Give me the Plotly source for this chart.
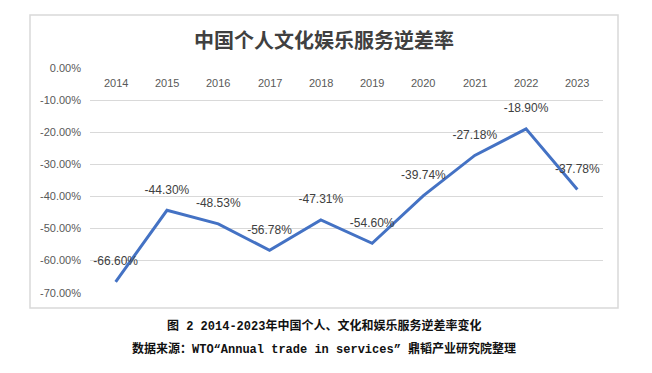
import plotly.graph_objects as go

years = ["2014", "2015", "2016", "2017", "2018", "2019", "2020", "2021", "2022", "2023"]
deficit_rate = [-66.60, -44.30, -48.53, -56.78, -47.31, -54.60, -39.74, -27.18, -18.90, -37.78]
y_ticks = [0, -10, -20, -30, -40, -50, -60, -70]

title_text = "中国个人文化娱乐服务逆差率"
caption1 = "图 2 2014-2023年中国个人、文化和娱乐服务逆差率变化"
caption2 = "数据来源：WTO“Annual trade in services” 鼎韬产业研究院整理"

labels = [f"{v:.2f}%" for v in deficit_rate]
tick_text = [f"{v:.2f}%" if v == 0 else f"-{abs(v):.2f}%" for v in y_ticks]

fig = go.Figure()
fig.add_trace(go.Scatter(
    x=years, y=deficit_rate, mode="lines+markers+text",
    line=dict(color="#4472C4", width=3),
    marker=dict(size=20, color="rgba(0,0,0,0)"),
    text=labels, textposition="top center",
    textfont=dict(family="Liberation Sans, Arial, sans-serif", size=12, color="#404040"),
    cliponaxis=False, hoverinfo="skip",
))

# category labels sit just under the 0% line (axis crosses at zero)
for i, yr in enumerate(years):
    fig.add_annotation(x=i, y=0, xref="x", yref="y", text=yr, showarrow=False,
                       yshift=-15, font=dict(family="Liberation Sans, Arial, sans-serif",
                                             size=11, color="#595959"))

fig.update_layout(
    width=652, height=373,
    margin=dict(l=90, r=49, t=68, b=80, autoexpand=False),
    paper_bgcolor="white", plot_bgcolor="white",
    showlegend=False,
    title=dict(text=title_text, x=0.497, xanchor="center", y=0.89, yref="container", yanchor="middle",
               font=dict(family="Noto Sans CJK SC", size=20, color="#404040", weight="bold")),
    font=dict(family="Liberation Sans, Arial, sans-serif"),
)
fig.update_xaxes(
    type="category", range=[-0.5, len(years) - 0.5], showticklabels=False, automargin=False,
    showgrid=False, showline=False, ticks="", zeroline=False,
)
fig.update_yaxes(
    range=[-70.1, 0.1], tickvals=y_ticks, ticktext=tick_text, automargin=False,
    showgrid=True, gridcolor="#D9D9D9", gridwidth=1.3, zeroline=False, showline=False,
    ticks="", tickfont=dict(size=11, color="#595959"), ticklabelstandoff=8,
)

# chart border
fig.add_shape(type="rect", xref="paper", yref="paper",
              x0=-60/513, x1=(618-90)/513, y0=(293-308)/225, y1=(293-15)/225,
              line=dict(color="#D9D9D9", width=1.5), fillcolor="rgba(0,0,0,0)", layer="below")

cap_font = dict(family="Liberation Mono, Noto Sans CJK SC", size=12, color="#111111", weight="bold")
fig.add_annotation(text=caption1, xref="paper", yref="paper", x=(324-90)/513, y=(293-326)/225,
                   showarrow=False, xanchor="center", yanchor="middle", font=cap_font)
fig.add_annotation(text=caption2, xref="paper", yref="paper", x=(324-90)/513, y=(293-349)/225,
                   showarrow=False, xanchor="center", yanchor="middle", font=cap_font)

fig.write_html("out.html", config={"displayModeBar": False, "staticPlot": True},
               post_script="document.body.style.margin='0';document.body.style.padding='0';")
